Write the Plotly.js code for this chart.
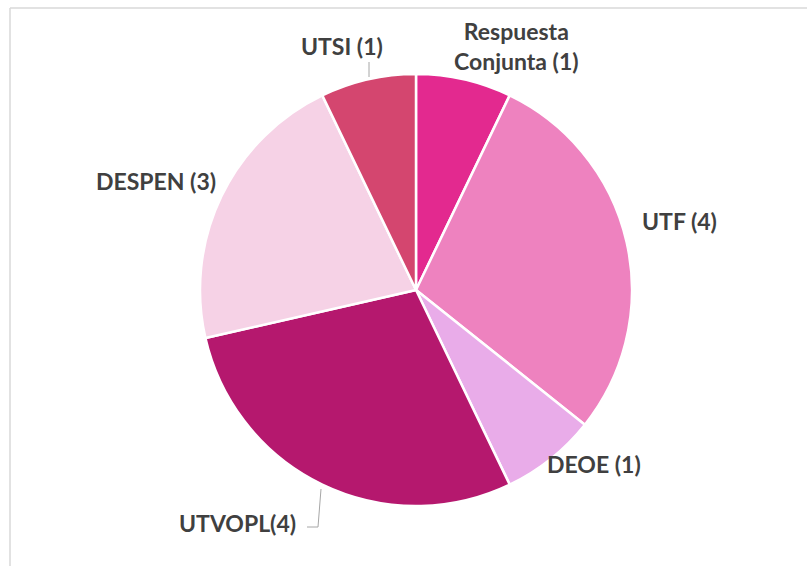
<!DOCTYPE html>
<html>
<head>
<meta charset="utf-8">
<script src="https://cdn.plot.ly/plotly-3.0.1.min.js"></script>
<style>html,body{margin:0;padding:0;background:#fff;}#chart{width:807px;height:566px;}</style>
</head>
<body>
<div id="chart"></div>
<script>
const categories = ["Respuesta Conjunta", "UTF", "DEOE", "UTVOPL", "DESPEN", "UTSI"];
const values = [1, 4, 1, 4, 3, 1];
const labelTexts = ["Respuesta<br>Conjunta (1)", "UTF (4)", "DEOE (1)", "UTVOPL(4)", "DESPEN (3)", "UTSI (1)"];
const colors = ["#E3298F", "#EE82BF", "#E9ACE9", "#B5186E", "#F6D2E6", "#D4466F"];

const W = 807, H = 566;
const cx = 416, cy = 290, r = 216;
const px = x => x / W;
const py = y => 1 - y / H;

// label anchor positions (pixels)
const labelPos = [[516, 46], [679, 221], [594, 464], [237, 523], [156, 181], [342, 46]];

const annotations = labelTexts.map((t, i) => ({
  text: t, xref: 'paper', yref: 'paper', x: px(labelPos[i][0]), y: py(labelPos[i][1]),
  xanchor: 'center', yanchor: 'middle', showarrow: false,
  font: {family: 'Lato, "Open Sans", sans-serif', size: 23, color: '#404040', weight: 'bold'}
}));

const lineStyle = {color: '#A6A6A6', width: 1};
const shapes = [
  {type: 'line', xref: 'paper', yref: 'paper', x0: px(10), x1: 1, y0: py(8), y1: py(8), line: {color: '#D9D9D9', width: 1.5}},
  {type: 'line', xref: 'paper', yref: 'paper', x0: px(10), x1: px(10), y0: py(8), y1: 0, line: {color: '#D9D9D9', width: 1.5}},
  {type: 'line', xref: 'paper', yref: 'paper', x0: px(369), x1: px(369), y0: py(62), y1: py(77), line: lineStyle},
  {type: 'line', xref: 'paper', yref: 'paper', x0: px(321), x1: px(318), y0: py(489), y1: py(527), line: lineStyle},
  {type: 'line', xref: 'paper', yref: 'paper', x0: px(318), x1: px(307), y0: py(527), y1: py(527), line: lineStyle}
];

const trace = {
  type: 'pie', labels: categories, values: values, sort: false, direction: 'clockwise', rotation: 0,
  marker: {colors: colors, line: {color: '#FFFFFF', width: 2.5}},
  textinfo: 'none', hoverinfo: 'label+value', showlegend: false,
  domain: {x: [px(cx - r), px(cx + r)], y: [py(cy + r), py(cy - r)]}
};

Plotly.newPlot('chart', [trace], {
  width: W, height: H, margin: {l: 0, r: 0, t: 0, b: 0},
  paper_bgcolor: '#FFFFFF', plot_bgcolor: '#FFFFFF',
  showlegend: false, annotations: annotations, shapes: shapes
}, {displayModeBar: false, staticPlot: true});
</script>
</body>
</html>
